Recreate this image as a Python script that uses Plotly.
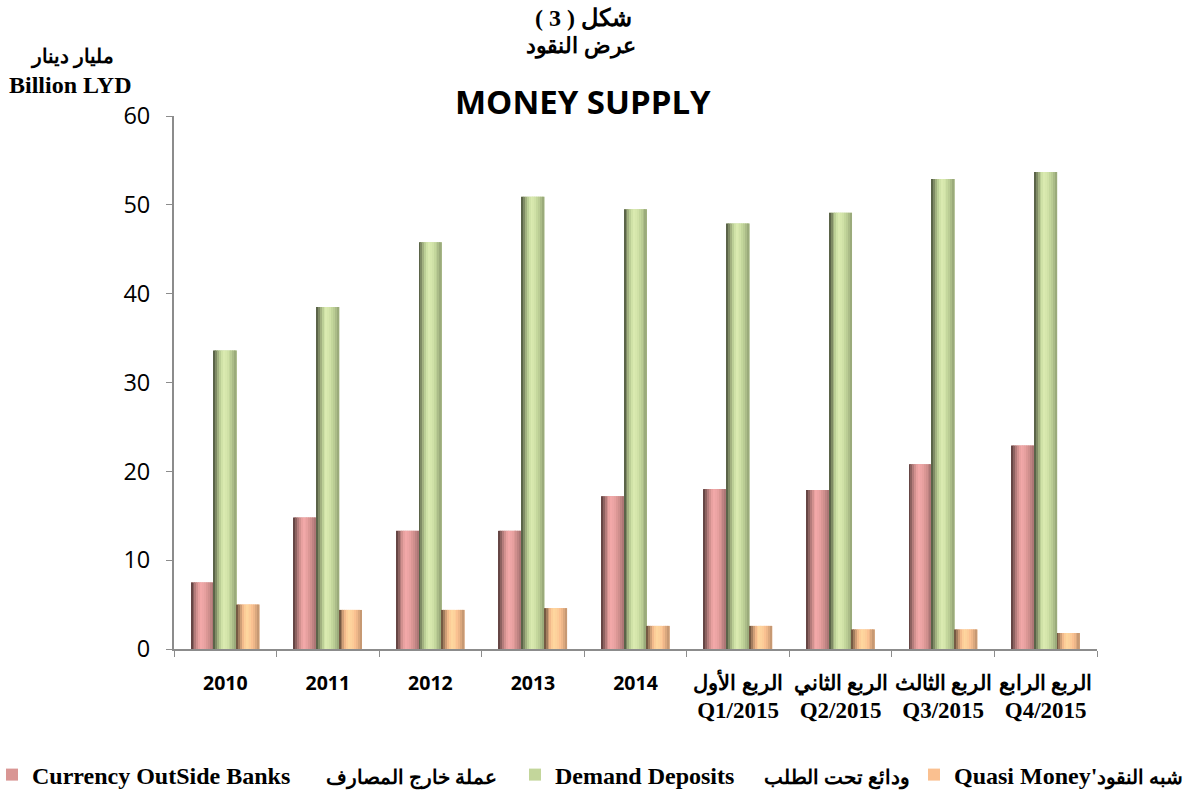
import plotly.graph_objects as go

categories = ["2010", "2011", "2012", "2013", "2014",
              "الربع الأول<br>Q1/2015", "الربع الثاني<br>Q2/2015",
              "الربع الثالث<br>Q3/2015", "الربع الرابع<br>Q4/2015"]
currency = [7.5, 14.8, 13.3, 13.3, 17.2, 18.0, 17.9, 20.8, 22.9]
demand = [33.6, 38.5, 45.8, 50.9, 49.5, 47.9, 49.1, 52.9, 53.7]
quasi = [5.0, 4.4, 4.4, 4.6, 2.6, 2.6, 2.2, 2.2, 1.8]

NB = "\u00a0"
AR = "<span style='font-size:20px;font-weight:bold'>%s</span>"
series_names = ["Currency OutSide Banks" + NB * 6 + AR % "عملة خارج المصارف",
                "Demand Deposits" + NB * 5 + AR % "ودائع تحت الطلب",
                "Quasi Money'" + AR % "شبه النقود"]
series_values = [currency, demand, quasi]
base_colors = [(217, 150, 148), (195, 214, 155), (250, 192, 144)]
hi_colors = [(244, 170, 170), (220, 236, 178), (255, 216, 160)]
legend_x_px = [-8, 515, 914]

x_labels = []
for c in categories:
    if "<br>" in c:
        ar, q = c.split("<br>")
        x_labels.append("<span style='font-size:20.5px;font-weight:bold'>" + ar + "</span><br>"
                        + "<span style='font-size:23px'>" + q + "</span>")
    else:
        x_labels.append("<span style='font-family:Open Sans;font-size:19.5px'>" + c + "</span>")


def shade(rgb, hi, f):
    if f <= 1.0:
        return "rgb(%d,%d,%d)" % tuple(int(v * f) for v in rgb)
    t = min(1.0, (f - 1.0) / 0.12)
    return "rgb(%d,%d,%d)" % tuple(int(a + (b - a) * t) for a, b in zip(rgb, hi))


profile = [(0.0, 0.38), (0.1, 0.6), (0.25, 0.92), (0.42, 1.12), (0.6, 1.08), (0.8, 0.95), (1.0, 0.76)]


def prof(t):
    for (t0, f0), (t1, f1) in zip(profile[:-1], profile[1:]):
        if t0 <= t <= t1:
            return f0 + (f1 - f0) * (t - t0) / (t1 - t0)
    return profile[-1][1]


group_w = 0.665
bar_w = group_w / 3
n_strips = 12
sw = bar_w / n_strips

L, R, T, B = 174, 102, 116, 145
W, H = 1199, 794
pw, ph = W - L - R, H - T - B


def px(x):
    return (x - L) / pw


def py(y):
    return (H - B - y) / ph


serif = "Liberation Serif"
fig = go.Figure()
legend_ids = ["legend", "legend2", "legend3"]
for i, (name, vals) in enumerate(zip(series_names, series_values)):
    off = -group_w / 2 + i * bar_w
    fig.add_trace(go.Bar(x=categories, y=vals, name=name, width=bar_w, offset=off,
                         marker=dict(color="rgb(%d,%d,%d)" % base_colors[i], line=dict(width=0)),
                         legend=legend_ids[i], hoverinfo="skip"))
    for j in range(n_strips):
        t = (j + 0.5) / n_strips
        fig.add_trace(go.Bar(x=categories, y=vals, width=sw * 1.02, offset=off + j * sw,
                             marker=dict(color=shade(base_colors[i], hi_colors[i], prof(t)), line=dict(width=0)),
                             showlegend=False, hoverinfo="skip"))

annots = [
    dict(text="<b>شكل ( 3 )</b>", x=px(583), y=py(18), font=dict(family=serif, size=24)),
    dict(text="<b>عرض النقود</b>", x=px(581), y=py(46), font=dict(family=serif, size=22)),
    dict(text="<b>MONEY SUPPLY</b>", x=px(583), y=py(101), font=dict(family="Open Sans", size=33)),
    dict(text="<b>مليار دينار</b>", x=px(72), y=py(57), font=dict(family=serif, size=20)),
    dict(text="<b>Billion LYD</b>", x=px(70), y=py(85), font=dict(family=serif, size=24)),
]
for a in annots:
    a.update(xref="paper", yref="paper", xanchor="center", yanchor="middle", showarrow=False)
    a["font"]["color"] = "black"

legend_style = dict(orientation="h", y=py(775), xanchor="left", yanchor="middle",
                    font=dict(family=serif, size=24, color="black", weight="bold"),
                    itemclick=False, itemdoubleclick=False, itemwidth=30,
                    bgcolor="rgba(0,0,0,0)")
layout_legends = {}
for lid, lx in zip(legend_ids, legend_x_px):
    d = dict(legend_style)
    d["x"] = px(lx)
    layout_legends[lid] = d

fig.update_layout(
    width=W, height=H,
    margin=dict(l=L, r=R, t=T, b=B, autoexpand=False),
    paper_bgcolor="white", plot_bgcolor="white",
    barmode="overlay",
    annotations=annots,
    showlegend=True,
    **layout_legends,
)
fig.update_xaxes(type="category", tickvals=categories, ticktext=x_labels, tickangle=0,
                 tickson="boundaries", ticks="outside", ticklen=6, tickcolor="#8c8c8c",
                 showline=True, linecolor="#8c8c8c", linewidth=2, showgrid=False,
                 tickfont=dict(family=serif, size=21.5, color="black", weight="bold"),
                 ticklabelstandoff=13, automargin=False, fixedrange=True)
fig.update_yaxes(range=[0, 60], dtick=10, ticks="outside", ticklen=6, tickcolor="#8c8c8c",
                 showline=True, linecolor="#8c8c8c", linewidth=2, showgrid=False, zeroline=False,
                 tickfont=dict(family="Open Sans", size=23.5, color="black"),
                 ticklabelstandoff=11, automargin=False, fixedrange=True)

fig.write_html("out.html", config={"displayModeBar": False},
               post_script="document.body.style.margin='0';document.body.style.overflow='hidden';")
